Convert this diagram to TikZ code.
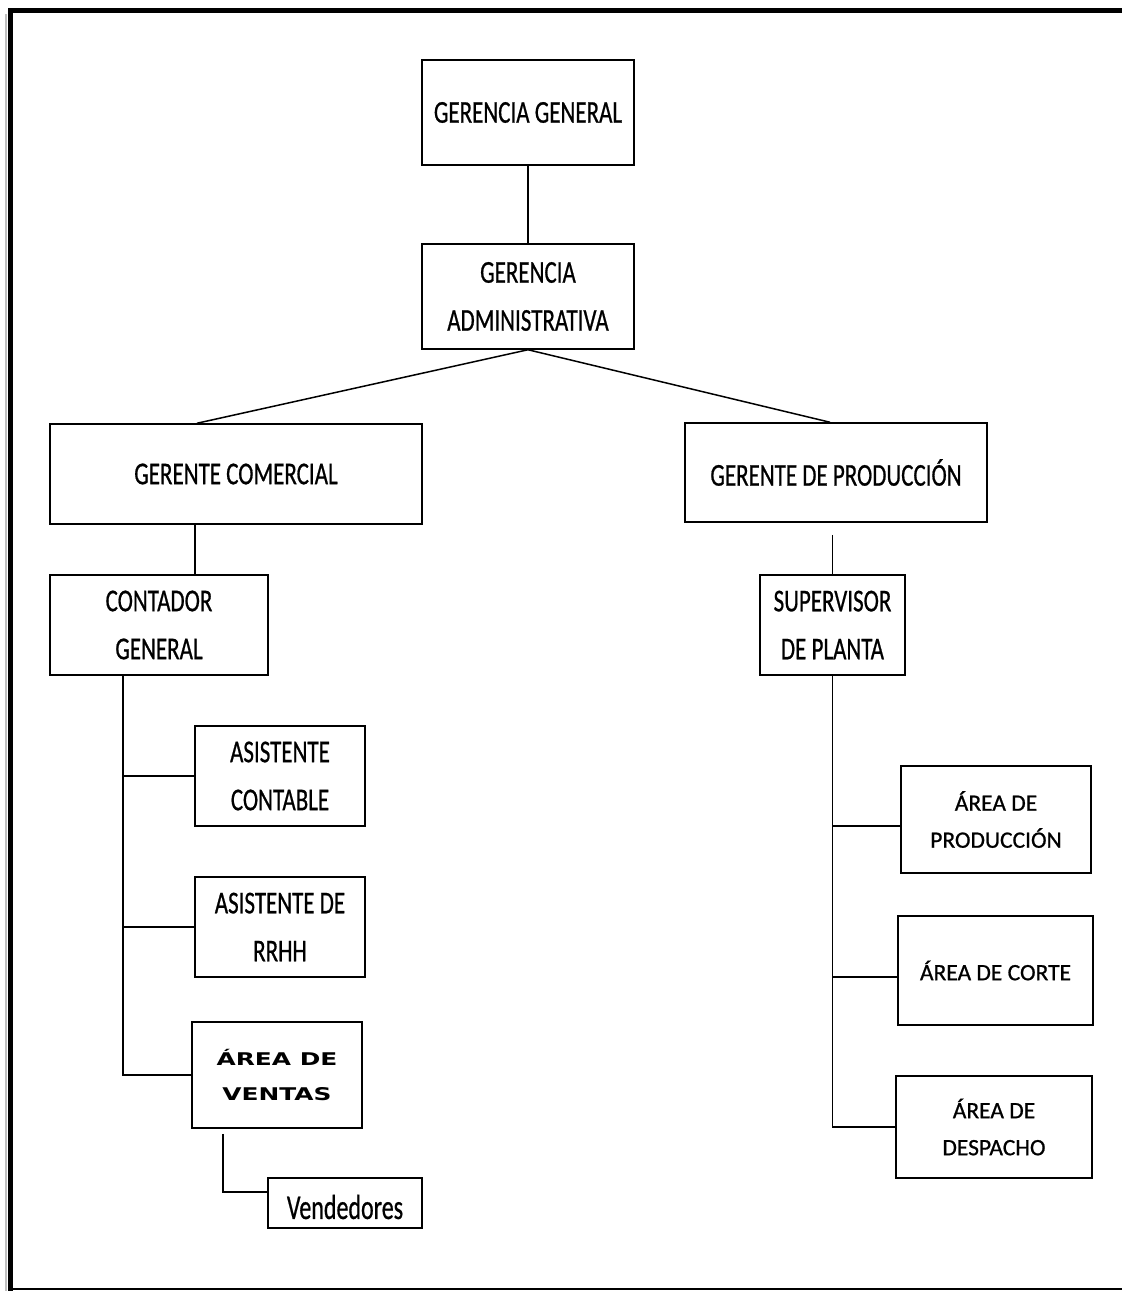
\documentclass[tikz,border=0pt]{standalone}
\usepackage{fontspec}
\setmainfont{Carlito}[FakeBold=0.8]
\newfontfamily\ventasfont{DejaVu Sans}
\newcommand{\tall}[1]{\scalebox{1}[1.38]{#1}}
\newcommand{\wide}[1]{\scalebox{1.42}[1]{#1}}
\begin{document}
\begin{tikzpicture}[x=1pt,y=-1pt]

    \tikzset{
      puesto/.style={
        draw,
        line width=1.5pt,
        inner sep=0pt,
        align=center,
        font=\fontsize{23}{48}\selectfont,
      },
      area/.style={
        puesto,
        font=\fontsize{23.5}{37}\selectfont,
      },
      enlace/.style={
        line width=1.5pt,
      },
    }
    \useasboundingbox (0,0) rectangle (1122,1291);
	\draw[color={black!25},line width=2pt] (6,14)--(6,1291);
	\draw[color={black},line width=5pt] (10,8)--(10,1291);
	\draw[color={black},line width=5pt] (8,10.5)--(1122,10.5);
	\draw[color={black},line width=1.5pt] (10,1289)--(1122,1289);

	\node[puesto,minimum width=212pt,minimum height=105pt] (gg) at (528,112.5) {\tall{GERENCIA GENERAL}};
	\node[puesto,minimum width=212pt,minimum height=105pt] (ga) at (528,296.5) {\tall{GERENCIA}\\\tall{ADMINISTRATIVA}};
	\node[puesto,minimum width=372pt,minimum height=100pt] (gc) at (236,474) {\tall{GERENTE COMERCIAL}};
	\node[puesto,minimum width=302pt,minimum height=99pt] (gp) at (836,472.5) {\tall{GERENTE DE PRODUCCIÓN}};
	\node[puesto,minimum width=218pt,minimum height=100pt] (cg) at (159,625) {\tall{CONTADOR}\\\tall{GENERAL}};
	\node[puesto,minimum width=145pt,minimum height=100pt] (sp) at (832.5,625) {\tall{SUPERVISOR}\\\tall{DE PLANTA}};
	\node[puesto,minimum width=170pt,minimum height=100pt] (ac) at (280,776) {\tall{ASISTENTE}\\\tall{CONTABLE}};
	\node[puesto,minimum width=170pt,minimum height=100pt] (ar) at (280,927) {\tall{ASISTENTE DE}\\\tall{RRHH}};
	\node[area,minimum width=170pt,minimum height=106pt,font=\ventasfont\bfseries\fontsize{17.5}{35}\selectfont] (av) at (277,1075) {\wide{ÁREA DE}\\\wide{VENTAS}};
	\node[puesto,minimum width=154pt,minimum height=50pt,font=\fontsize{24}{30}\selectfont] (vend) at (345,1203) {\raisebox{-4pt}[\height][\depth]{\scalebox{1}[1.45]{Vendedores}}};
	\node[area,minimum width=190pt,minimum height=107pt] (ap) at (996,819.5) {ÁREA DE\\PRODUCCIÓN};
	\node[area,minimum width=195pt,minimum height=109pt] (acorte) at (995.5,970.5) {ÁREA DE CORTE};
	\node[area,minimum width=196pt,minimum height=102pt] (ad) at (994,1127) {ÁREA DE\\DESPACHO};

	\draw[enlace] (gg.south)--(ga.north);
	\draw[enlace] (ga.south)--([xshift=-39pt]gc.north);
	\draw[enlace] (ga.south)--([xshift=-6pt]gp.north);
	\draw[enlace] ([xshift=-41pt]gc.south)--([xshift=-41pt]gc.south |- cg.north);
	\draw[enlace] ([yshift=-12pt]gp.south -| sp.north)--(sp.north);

	\draw[enlace] ([xshift=-36pt]cg.south) |- (av.west);
	\draw[enlace] ([xshift=-36pt]cg.south |- ac.west)--(ac.west);
	\draw[enlace] ([xshift=-36pt]cg.south |- ar.west)--(ar.west);
	\draw[enlace] ([xshift=-54pt,yshift=-5pt]av.south) |- ([yshift=11pt]vend.west);

	\draw[enlace] (sp.south) |- (ad.west);
	\draw[enlace] ([yshift=-6.5pt]sp.south |- ap.west)--([yshift=-6.5pt]ap.west);
	\draw[enlace] ([yshift=-6.5pt]sp.south |- acorte.west)--([yshift=-6.5pt]acorte.west);

\end{tikzpicture}
\end{document}
